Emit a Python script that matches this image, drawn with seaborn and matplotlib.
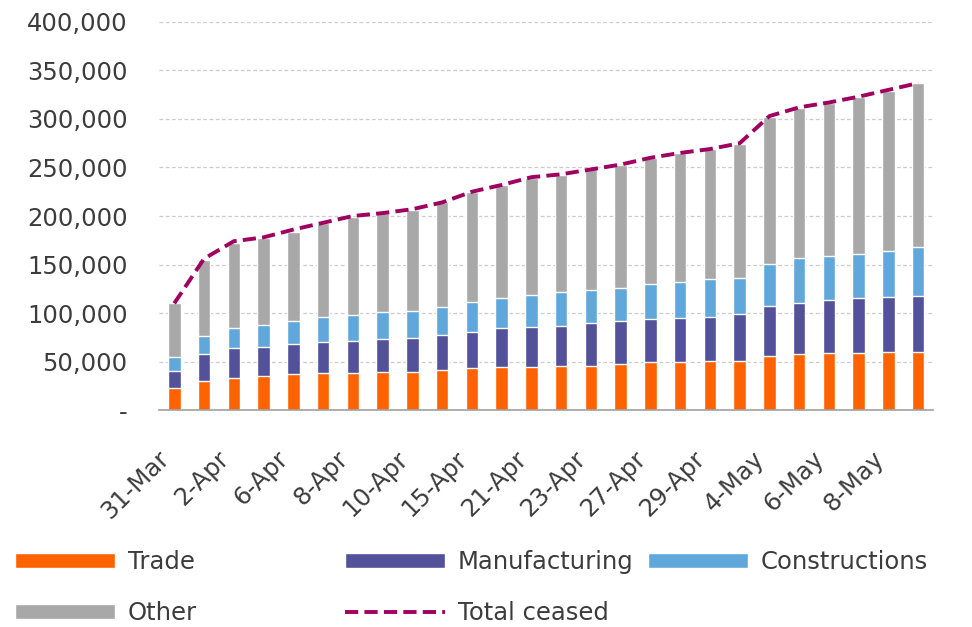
import numpy as np
import pandas as pd
import matplotlib
matplotlib.use('Agg')
import matplotlib.pyplot as plt
from matplotlib.patches import Patch
from matplotlib.lines import Line2D
import seaborn as sns

#dates (only every other one is labelled on the chart)
dates = ['31-Mar', '1-Apr', '2-Apr', '3-Apr', '6-Apr', '7-Apr', '8-Apr', '9-Apr',
         '10-Apr', '14-Apr', '15-Apr', '17-Apr', '21-Apr', '22-Apr', '23-Apr', '24-Apr',
         '27-Apr', '28-Apr', '29-Apr', '30-Apr', '4-May', '5-May', '6-May', '7-May',
         '8-May', '11-May']

#ceased businesses by sector
trade = [22400, 29900, 33300, 35000, 36800, 38500, 38500, 39500, 39500, 41200, 43000, 44700, 44700,
         45700, 45700, 47400, 49100, 49100, 50500, 50500, 55700, 57400, 58400, 58400, 60100, 60100]
manufacturing = [17800, 27500, 31000, 30300, 31200, 31300, 33000, 33700, 35100, 36100, 37800, 39500, 41200,
                 40900, 43600, 44400, 44400, 46100, 45700, 48500, 51500, 53200, 55000, 56700, 56700, 57700]
constructions = [14100, 19200, 20600, 22300, 24000, 25700, 26400, 27500, 27800, 29200, 30900, 30900, 32700,
                 34700, 34400, 34300, 36100, 37100, 38500, 37400, 43000, 45800, 45400, 45400, 47400, 49900]
other = [55700, 78000, 86900, 89400, 91800, 96900, 101400, 102000, 103600, 107500, 113300, 116900, 120200,
         121000, 124300, 126500, 129900, 132300, 134000, 137500, 152200, 155300, 158000, 162500, 165000, 169100]
total_ceased = [110000, 156000, 174000, 178000, 186000, 193000, 200000, 203000, 207000, 214000, 225000, 232000, 240000,
                243000, 248000, 253000, 260000, 265000, 269000, 275000, 303000, 312000, 317000, 323000, 330000, 337000]

yticks = [0, 50000, 100000, 150000, 200000, 250000, 300000, 350000, 400000]
ytick_labels = ['-', '50,000', '100,000', '150,000', '200,000', '250,000', '300,000', '350,000', '400,000']

#colours
c_trade = '#FF6200'
c_manuf = '#525199'
c_constr = '#60A8DC'
c_other = '#A8A8A8'
c_total = '#A0005F'

sns.set_style('white')
plt.rcParams['font.family'] = ['DejaVu Sans']
txt_col = '#3c3c3c'
fs = 17.5

df = pd.DataFrame({'date': dates, 'trade': trade, 'manuf': manufacturing,
                   'constr': constructions, 'other': other})
#stack tops
df['top_trade'] = df['trade']
df['top_manuf'] = df['top_trade'] + df['manuf']
df['top_constr'] = df['top_manuf'] + df['constr']
df['top_other'] = df['top_constr'] + df['other']

fig = plt.figure(figsize=(9.72, 6.27), dpi=100)
ax = fig.add_axes([0.164, 0.346, 0.796, 0.619])

#draw tallest first so the lower layers sit on top
for col, c in [('top_other', c_other), ('top_constr', c_constr),
               ('top_manuf', c_manuf), ('top_trade', c_trade)]:
    sns.barplot(data=df, x='date', y=col, color=c, saturation=1, width=0.42, ax=ax, zorder=2)

sns.lineplot(x=np.arange(len(dates)), y=total_ceased, color=c_total, lw=2.8,
             linestyle=(0, (3.4, 1.6)), ax=ax, zorder=4)

ax.set_xlim(-0.5, len(dates) - 0.5)
ax.set_ylim(0, 400000)
ax.set_yticks(yticks)
ax.set_yticklabels(ytick_labels, fontsize=fs, color=txt_col)
ax.set_xticks(np.arange(0, len(dates), 2))
ax.set_xticklabels(dates[::2], rotation=45, ha='right', fontsize=fs, color=txt_col)
ax.set_xticks(np.arange(-0.5, len(dates), 1), minor=True)
ax.tick_params(axis='x', which='major', length=0, pad=26)
ax.tick_params(axis='x', which='minor', length=6, width=1, color='#a0a0a0', direction='out')
ax.tick_params(axis='y', length=0, pad=23)
ax.set_xlabel('')
ax.set_ylabel('')

#grid and spines
ax.yaxis.grid(True, linestyle=(0, (3, 2)), color='#cccccc', lw=0.9)
ax.set_axisbelow(True)
for s in ['top', 'right', 'left']:
    ax.spines[s].set_visible(False)
ax.spines['bottom'].set_color('#a0a0a0')
ax.spines['bottom'].set_linewidth(1.2)

#legend entries placed by hand
entries = [
    (Patch(facecolor=c_trade), 'Trade', 15, 562),
    (Patch(facecolor=c_manuf), 'Manufacturing', 345, 562),
    (Patch(facecolor=c_constr), 'Constructions', 648, 562),
    (Patch(facecolor=c_other), 'Other', 15, 613),
    (Line2D([0], [0], color=c_total, lw=2.8, linestyle=(0, (3.4, 1.6))), 'Total ceased', 345, 613),
]
for h, lab, px, py in entries:
    leg = fig.legend(handles=[h], labels=[lab], loc='center left',
                     bbox_to_anchor=(px / 972, 1 - py / 627), frameon=False,
                     borderpad=0, borderaxespad=0, handlelength=4.1, handleheight=0.62,
                     handletextpad=0.53, fontsize=fs)
    for t in leg.get_texts():
        t.set_color(txt_col)

plt.savefig('out.png', dpi=100)
